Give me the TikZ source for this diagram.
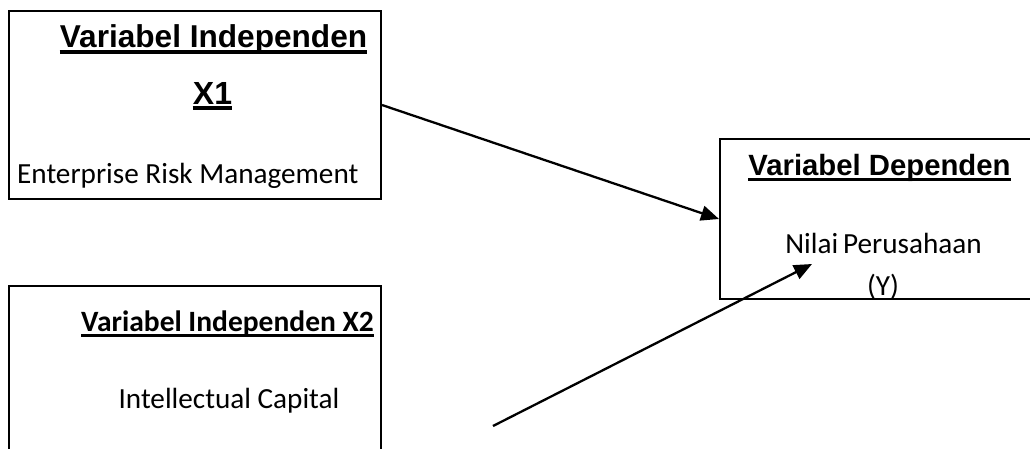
\documentclass[tikz,border=0pt]{standalone}
\usepackage{fontspec}
\usepackage{tikz}
\usetikzlibrary{arrows.meta}
\newfontfamily\arialfont{Liberation Sans}
\newfontfamily\calibrifont{Carlito}

\begin{document}
\begin{tikzpicture}[x=1pt,y=-1pt,
  var box/.style={draw,line width=2pt,rectangle,anchor=north west,inner sep=0pt},
  head/.style={font={\arialfont\bfseries\fontsize{29.3}{34}\selectfont},anchor=base,inner sep=0pt},
  body/.style={font={\calibrifont\fontsize{29.2}{34}\selectfont},anchor=base,inner sep=0pt},
  link/.style={line width=2.3pt,-{Triangle[length=18pt,width=15pt]}},
  ul rule/.style={line width=3.8pt}]

\useasboundingbox (0,0) rectangle (1030,448);
\clip (0,0) rectangle (1030,448);

\node at (8,10) [var box,minimum width=372pt,minimum height=188pt] (X1box) {};
\node at (8,285) [var box,minimum width=372pt,minimum height=185pt] (X2box) {};
\node at (719,138) [var box,minimum width=321pt,minimum height=160pt] (Ybox) {};

\node at (213.5,47) [head,font={\arialfont\bfseries\fontsize{31.6}{38}\selectfont}] (X1head) {Variabel Independen};
\node at (212.5,104) [head,font={\arialfont\bfseries\fontsize{32}{38}\selectfont}] (X1name) {X1};
\node at (17,183) [body,anchor=base west] (X1text) {Enterprise Risk Management};

\node at (227.5,331) [body,font={\calibrifont\bfseries\fontsize{29.5}{34}\selectfont}] (X2head) {Variabel Independen X2};
\node at (229,408) [body] (X2text) {Intellectual Capital};

\node at (879.5,175) [head] (Yhead) {Variabel Dependen};
\node at (883.5,253) [body] (Ytext) {Nilai\,Perusahaan};
\node at (883,295) [body] (Yname) {(Y)};

\draw[ul rule] ([yshift=-5pt]X1head.base west) -- ([yshift=-5pt]X1head.base east);
\draw[ul rule] ([yshift=-4pt]X1name.base west) -- ([yshift=-4pt]X1name.base east);
\draw[ul rule] ([yshift=-4.5pt]Yhead.base west) -- ([yshift=-4.5pt]Yhead.base east);
\draw[ul rule,line width=3pt] ([yshift=-4pt]X2head.base west) -- ([yshift=-4pt]X2head.base east);

\coordinate (X2start) at (493,426);
\coordinate (Yend) at (812,264);

\draw[link] (X1box.east) -- (Ybox.west);
\draw[link] (X2start) -- (Yend);

\end{tikzpicture}
\end{document}
